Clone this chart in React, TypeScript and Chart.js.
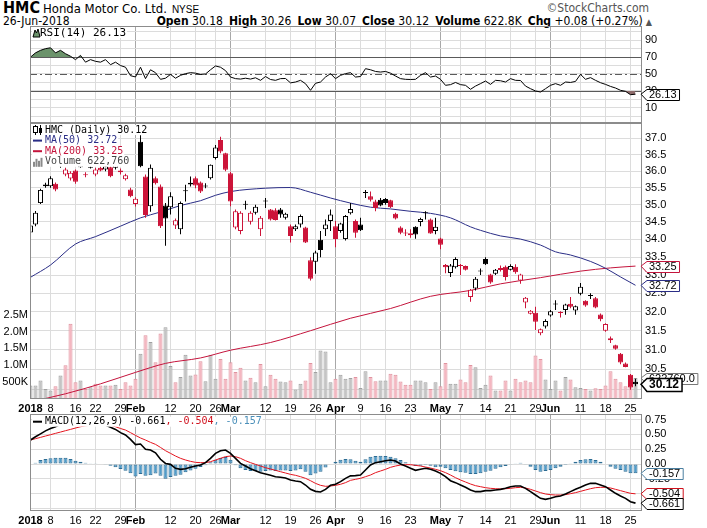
import React, { useEffect, useRef } from "react";
import { Chart, registerables } from "chart.js";

Chart.register(...registerables);

const FONT = "'Liberation Sans', Arial, sans-serif";
const NARROW = "'Liberation Sans Narrow', 'Arial Narrow', 'DejaVu Sans Condensed', 'Liberation Sans', sans-serif";
const MONO = "'DejaVu Sans Mono', 'Liberation Mono', monospace";

const RED = "#cc1439";
const NAVY = "#2a2d86";
const CRIMSON = "#c4143c";
const GRID = "#dcdcdc";
const MONTH_GRID = "#a8a8a8";
const FRAME = "#8c8c8c";

// x axis: trading-day index, 0 = 2-Jan-2018 ... 121 = 26-Jun-2018
const tickIdx = [0, 4, 9, 13, 18, 21, 28, 33, 37, 40, 47, 52, 57, 61, 66, 71, 76, 82, 86, 91, 96, 101, 104, 110, 115, 120];
const tickText = ["2018", "8", "16", "22", "29", "Feb", "12", "20", "26", "Mar", "12", "19", "26", "Apr", "9", "16", "23", "May", "7", "14", "21", "29", "Jun", "11", "18", "25"];
const monthIdx = [0, 21, 40, 61, 82, 104];

// daily candles
const open = [
  34.2, 34.43, 35.05, 35.55, 35.55, 35.62, 36.15, 35.9, 35.78, 36.02,
  36.12, 35.9, 36.12, 35.9, 36.1, 36.05, 36.12, 36.1, 36.02, 35.76,
  35.45, 35.02, 36.9, 35.84, 34.96, 35.79, 35.54, 34.98, 34.93, 34.4,
  34.29, 35.4, 35.6, 35.79, 35.66, 35.57, 35.79, 36.4, 36.95, 36.54,
  35.94, 34.34, 34.24, 35.02, 34.51, 34.77, 34.29, 35.12, 34.86, 34.84,
  34.86, 34.62, 34.38, 34.29, 34.43, 34.34, 33.41, 33.37, 33.99, 34.29,
  34.53, 34.38, 34.24, 34.01, 34.75, 34.53, 34.43, 35.38, 35.25, 35.1,
  35.15, 35.17, 35.13, 34.74, 34.34, 34.2, 34.18, 34.36, 34.5, 34.78,
  34.57, 34.24, 34.03, 33.28, 33.06, 33.22, 33.28, 33.25, 32.4, 32.63,
  33.12, 33.45, 33.02, 33.04, 33.2, 33.23, 33.15, 33.23, 32.85, 32.25,
  31.95, 31.98, 31.43, 31.61, 31.9, 32.2, 32.0, 32.05, 32.22, 32.04,
  32.49, 32.3, 32.45, 32.37, 31.93, 31.5, 31.3, 31.12, 30.9, 30.65,
  30.36, 30.18,
];
const high = [
  34.45, 34.82, 35.47, 35.65, 35.85, 35.66, 36.35, 36.1, 36.0, 36.05,
  36.3, 35.97, 36.15, 36.1, 36.15, 36.2, 36.15, 36.25, 36.08, 35.92,
  35.5, 35.22, 37.1, 35.9, 36.2, 35.84, 35.6, 35.05, 35.37, 34.6,
  35.1, 35.59, 35.84, 35.84, 35.69, 35.64, 36.2, 36.8, 37.05, 36.56,
  35.98, 34.86, 34.81, 35.12, 34.81, 35.0, 34.67, 35.2, 34.88, 34.9,
  34.91, 34.77, 34.43, 34.43, 34.72, 34.36, 33.5, 33.68, 34.24, 34.57,
  34.86, 34.53, 34.48, 34.7, 35.05, 34.57, 34.62, 35.44, 35.39, 35.15,
  35.2, 35.2, 35.15, 34.77, 34.38, 34.29, 34.29, 34.38, 34.62, 34.81,
  34.6, 34.62, 34.05, 33.31, 33.31, 33.5, 33.31, 33.27, 32.62, 32.95,
  33.18, 33.5, 33.04, 33.17, 33.27, 33.27, 33.3, 33.3, 33.04, 32.4,
  32.05, 32.14, 31.56, 31.8, 32.05, 32.31, 32.02, 32.22, 32.4, 32.17,
  32.78, 32.31, 32.5, 32.4, 31.96, 31.7, 31.35, 31.13, 30.92, 30.67,
  30.38, 30.26,
];
const low = [
  34.15, 34.38, 35.02, 35.5, 35.5, 35.4, 36.1, 35.85, 35.72, 35.62,
  36.1, 35.82, 36.08, 35.85, 36.0, 36.0, 35.82, 36.05, 35.9, 35.72,
  35.22, 34.95, 36.12, 34.62, 34.8, 35.6, 34.33, 33.82, 34.72, 34.3,
  34.15, 35.1, 35.54, 35.49, 35.35, 35.49, 35.75, 36.35, 36.54, 36.0,
  34.96, 34.29, 34.15, 34.86, 34.43, 34.72, 34.1, 34.91, 34.54, 34.54,
  34.62, 34.57, 33.91, 34.24, 34.34, 33.9, 32.85, 33.04, 33.5, 34.1,
  34.24, 33.78, 34.19, 33.97, 34.72, 34.05, 34.24, 35.2, 35.1, 34.81,
  34.96, 35.0, 34.91, 34.57, 34.15, 34.1, 34.05, 34.02, 34.38, 34.57,
  34.16, 34.15, 33.72, 33.05, 32.95, 33.18, 33.0, 33.13, 32.27, 32.58,
  33.0, 33.28, 32.76, 33.0, 33.1, 32.85, 33.13, 33.04, 32.76, 32.1,
  31.93, 31.52, 31.38, 31.56, 31.87, 32.05, 31.85, 31.92, 32.1, 31.92,
  32.45, 32.14, 32.35, 32.1, 31.75, 31.47, 31.18, 31.0, 30.63, 30.55,
  29.98, 30.07,
];
const close = [
  34.4, 34.77, 35.44, 35.6, 35.79, 35.45, 36.3, 36.05, 35.95, 35.68,
  36.25, 35.88, 36.1, 36.05, 36.02, 36.15, 35.85, 36.2, 35.97, 35.88,
  35.25, 35.18, 36.15, 34.7, 36.1, 35.64, 34.38, 34.6, 35.25, 34.55,
  35.05, 35.42, 35.65, 35.57, 35.39, 35.54, 36.19, 36.72, 36.6, 36.04,
  35.1, 34.81, 34.77, 35.0, 34.77, 34.94, 34.62, 35.1, 34.57, 34.56,
  34.72, 34.74, 34.1, 34.38, 34.67, 33.91, 32.9, 33.63, 33.7, 34.43,
  34.72, 34.01, 34.46, 34.67, 34.88, 34.19, 34.26, 35.35, 35.15, 34.91,
  34.98, 35.05, 34.93, 34.6, 34.19, 34.17, 34.12, 34.14, 34.59, 34.75,
  34.17, 34.36, 33.85, 33.22, 33.27, 33.45, 33.25, 33.15, 32.6, 32.9,
  33.1, 33.3, 32.8, 33.15, 33.14, 32.95, 33.25, 33.08, 33.02, 32.38,
  32.03, 31.74, 31.54, 31.76, 32.02, 32.22, 31.97, 32.2, 32.14, 32.15,
  32.68, 32.17, 32.43, 32.12, 31.8, 31.68, 31.25, 31.03, 30.67, 30.56,
  30.04, 30.12,
];
// volume, millions of shares
const volume = [
  0.4, 0.4, 0.55, 0.3, 0.25, 0.38, 0.7, 1.0, 2.23, 0.5,
  0.55, 0.3, 0.35, 0.45, 0.4, 0.4, 0.4, 0.42, 0.3, 0.5,
  0.4, 0.6, 1.34, 1.89, 1.69, 1.09, 1.94, 2.13, 0.98, 0.5,
  0.65, 1.31, 0.7, 0.73, 1.12, 0.53, 1.31, 0.6, 1.19, 0.6,
  1.09, 0.8, 0.93, 0.55, 0.63, 0.5, 1.04, 0.38, 0.72, 0.6,
  0.52, 0.5, 0.55, 0.28, 0.45, 0.55, 1.07, 0.8, 1.44, 1.41,
  0.5, 0.6, 0.72, 0.6, 0.62, 0.65, 0.33, 0.82, 0.65, 0.53,
  0.55, 0.55, 0.75, 0.72, 0.52, 0.42, 0.42, 0.55, 0.55, 0.5,
  0.3, 0.5, 0.38, 1.07, 0.45, 0.45, 0.58, 0.5, 1.01, 0.94,
  0.33, 0.42, 0.7, 0.25, 0.25, 0.55, 0.25, 0.6, 0.5, 0.55,
  0.5, 1.29, 1.19, 0.58, 0.3, 0.55, 0.25, 0.65, 0.58, 0.35,
  0.33, 0.3, 0.25, 0.32, 0.3, 0.4, 0.82, 0.6, 0.5, 0.38,
  0.65, 0.62276,
];

// moving averages, read at these day indices
const ma50Idx = [0, 4, 9, 13, 18, 22, 26, 30, 34, 37, 40, 47, 52, 56, 60, 64, 68, 72, 76, 80, 84, 88, 90, 94, 98, 102, 105, 108, 112, 115, 118, 121];
const ma50 = [32.94, 33.28, 33.87, 34.08, 34.38, 34.62, 34.79, 34.98, 35.12, 35.28, 35.39, 35.49, 35.51, 35.37, 35.2, 35.05, 34.93, 34.88, 34.81, 34.75, 34.62, 34.36, 34.26, 34.1, 34.01, 33.84, 33.65, 33.56, 33.38, 33.19, 32.95, 32.72];
const ma200Idx = [0, 7, 14, 21, 27, 34, 40, 48, 56, 64, 72, 80, 88, 94, 102, 110, 116, 121];
const ma200 = [29.68, 29.88, 30.13, 30.42, 30.65, 30.79, 30.99, 31.19, 31.5, 31.83, 32.09, 32.42, 32.58, 32.76, 32.93, 33.11, 33.2, 33.25];

const rsi = [
  70, 75, 78, 80, 81, 75, 78, 74, 71, 67,
  72, 64, 67, 65, 64, 67, 61, 64, 60, 58,
  48, 46.5, 58, 44.5, 55, 51.5, 43.7, 45, 49.5, 45,
  48.4, 50.4, 51.6, 51, 49.5, 50, 55, 59.5, 58, 54,
  46.4, 44.5, 44, 45, 44, 45.5, 42.5, 47, 43.5, 42.5,
  44.5, 44.7, 39.5, 40.5, 42.5, 38.5, 30.7, 39, 40.5, 46.4,
  50.4, 44.5, 48.4, 50.4, 51.6, 46.4, 47, 56.3, 55, 53,
  52.3, 53, 51, 47.6, 44.5, 43.7, 43.5, 43.7, 48.4, 51.6,
  46.4, 47.6, 43.7, 36.6, 37.4, 40, 37.4, 36.6, 31.9, 35.7,
  38.6, 41.7, 37.7, 42.5, 42, 40.5, 44.5, 42.5, 42.3, 35.7,
  32.6, 29.9, 28.7, 32.6, 36.6, 38.6, 36.6, 40.5, 40, 41.2,
  49.6, 43.7, 45.7, 42.5, 39.7, 37.7, 35.3, 33.4, 30.7, 29.5,
  25.5, 26.13,
];

const macd = [
  0.405, 0.46, 0.51, 0.56, 0.6, 0.63, 0.67, 0.69, 0.7, 0.7,
  0.71, 0.7, 0.7, 0.69, 0.68, 0.66, 0.62, 0.585, 0.53, 0.49,
  0.417, 0.327, 0.338, 0.248, 0.236, 0.19, 0.08, 0.01, -0.006, -0.073,
  -0.09, -0.079, -0.056, -0.034, -0.017, 0.023, 0.096, 0.18, 0.225, 0.236,
  0.18, 0.096, 0.011, -0.034, -0.079, -0.113, -0.146, -0.169, -0.191, -0.214,
  -0.225, -0.236, -0.27, -0.287, -0.298, -0.355, -0.428, -0.462, -0.473, -0.428,
  -0.36, -0.343, -0.298, -0.242, -0.2, -0.197, -0.186, -0.101, -0.017, 0.023,
  0.039, 0.056, 0.068, 0.051, 0, -0.034, -0.073, -0.107, -0.09, -0.073,
  -0.09, -0.118, -0.158, -0.214, -0.282, -0.315, -0.355, -0.394, -0.439, -0.467,
  -0.467, -0.45, -0.45, -0.439, -0.428, -0.411, -0.383, -0.372, -0.372, -0.411,
  -0.467, -0.524, -0.58, -0.597, -0.58, -0.552, -0.54, -0.507, -0.467, -0.428,
  -0.394, -0.355, -0.327, -0.327, -0.355, -0.383, -0.439, -0.495, -0.541, -0.58,
  -0.636, -0.661,
];
const signal = [
  0.405, 0.428, 0.45, 0.473, 0.495, 0.518, 0.54, 0.563, 0.585, 0.608,
  0.63, 0.645, 0.655, 0.66, 0.665, 0.665, 0.655, 0.63, 0.6, 0.574,
  0.53, 0.484, 0.44, 0.405, 0.366, 0.332, 0.28, 0.225, 0.18, 0.135,
  0.096, 0.068, 0.045, 0.028, 0.023, 0.023, 0.039, 0.068, 0.096, 0.124,
  0.135, 0.124, 0.096, 0.056, 0.023, -0.006, -0.034, -0.062, -0.084, -0.107,
  -0.13, -0.152, -0.175, -0.191, -0.214, -0.242, -0.282, -0.327, -0.36, -0.377,
  -0.372, -0.36, -0.343, -0.315, -0.276, -0.259, -0.242, -0.214, -0.186, -0.146,
  -0.118, -0.09, -0.056, -0.034, -0.017, -0.011, -0.011, -0.023, -0.034, -0.051,
  -0.068, -0.09, -0.113, -0.146, -0.186, -0.231, -0.27, -0.304, -0.338, -0.366,
  -0.383, -0.4, -0.411, -0.417, -0.422, -0.417, -0.411, -0.4, -0.394, -0.405,
  -0.428, -0.456, -0.484, -0.507, -0.518, -0.524, -0.524, -0.518, -0.501, -0.484,
  -0.462, -0.439, -0.417, -0.4, -0.394, -0.394, -0.405, -0.428, -0.45, -0.473,
  -0.495, -0.504,
];
const hist = [
  0, 0.02, 0.068, 0.085, 0.096, 0.107, 0.107, 0.107, 0.085, 0.056,
  0.04, 0.023, 0.011, 0.006, 0, -0.006, -0.028, -0.056, -0.084, -0.113,
  -0.158, -0.21, -0.17, -0.2, -0.19, -0.16, -0.2, -0.25, -0.22, -0.2,
  -0.18, -0.14, -0.11, -0.08, -0.05, -0.02, 0.03, 0.07, 0.1, 0.12,
  0.07, -0.02, -0.07, -0.1, -0.12, -0.12, -0.13, -0.12, -0.11, -0.12,
  -0.11, -0.11, -0.12, -0.11, -0.09, -0.13, -0.19, -0.16, -0.13, -0.06,
  0, 0.04, 0.07, 0.085, 0.079, 0.056, 0.04, 0.079, 0.124, 0.135,
  0.14, 0.135, 0.124, 0.096, 0.068, 0.028, 0, -0.034, -0.028, -0.017,
  -0.028, -0.056, -0.045, -0.073, -0.101, -0.124, -0.141, -0.146, -0.169, -0.169,
  -0.158, -0.13, -0.113, -0.079, -0.056, -0.034, -0.006, 0.011, 0.023, -0.006,
  -0.045, -0.101, -0.13, -0.118, -0.101, -0.073, -0.045, -0.017, 0.011, 0.039,
  0.068, 0.079, 0.085, 0.068, 0.039, 0, -0.045, -0.079, -0.101, -0.13,
  -0.158, -0.157,
];

const priceTicks = [30.0, 30.5, 31.0, 31.5, 32.0, 32.5, 33.0, 33.5, 34.0, 34.5, 35.0, 35.5, 36.0, 36.5, 37.0];
const volTicks = [0.5, 1.0, 1.5, 2.0, 2.5];
const rsiGrid = [0, 10, 20, 30, 40, 50, 60, 70, 80, 90, 100];
const rsiLabels = [10, 30, 50, 70, 90];
const macdTicks = [-0.75, -0.5, -0.25, 0, 0.25, 0.5, 0.75];
const macdTickText = ["", "-0.50", "-0.25", "0.00", "0.25", "0.50", "0.75"];

const last = (a: number[]) => a[a.length - 1];
const isUp = (i: number) => i === 0 || close[i] >= close[i - 1];
const candleColor = (i: number) => (isUp(i) ? "#000" : RED);
const bodyFill = (i: number) => (close[i] > open[i] + 0.02 ? "#fff" : candleColor(i));

function xAxis(showLabels: boolean, height: number) {
  return {
    type: "linear",
    bounds: "data",
    min: -0.1,
    max: 122.3,
    offset: false,
    afterBuildTicks: (s: any) => {
      s.ticks = tickIdx.map((v) => ({ value: v }));
    },
    afterFit: (s: any) => {
      s.height = height;
      s.paddingLeft = 0;
      s.paddingRight = 0;
    },
    ticks: {
      display: showLabels,
      autoSkip: false,
      maxRotation: 0,
      padding: 3,
      color: "#000",
      font: (c: any) => ({ family: FONT, size: 11, weight: monthIdx.includes(c.tick?.value) ? "bold" : "normal" }),
      callback: (v: any) => tickText[tickIdx.indexOf(Number(v))] ?? "",
    },
    grid: {
      color: (c: any) => (monthIdx.includes(c.tick?.value) ? MONTH_GRID : GRID),
      drawTicks: false,
      offset: false,
    },
    border: { display: false },
  };
}

function rightAxis(min: number, max: number, ticks: number[], label: (v: number) => string, type = "linear") {
  return {
    type,
    position: "right",
    bounds: "data",
    min,
    max,
    afterBuildTicks: (s: any) => {
      s.ticks = ticks.map((v) => ({ value: v }));
    },
    afterFit: (s: any) => {
      s.width = 65;
      s.paddingTop = 0;
      s.paddingBottom = 0;
    },
    ticks: { autoSkip: false, padding: 3, color: "#000", font: { family: FONT, size: 11 }, callback: (v: any) => label(Number(v)) },
    grid: { color: GRID, drawTicks: false },
    border: { display: false },
  };
}

type Seg = { text: string; color: string };
type Row = { icon: string; color: string; segs: Seg[] };
type Tag = { axis: string; value: number; text: string; color: string; bold?: boolean };
type Level = { value: number; dash: number[] };
type Legend = { rows: Row[]; top: number; step: number; textX: number; size: number };

function drawIcon(ctx: CanvasRenderingContext2D, icon: string, color: string, x: number, yc: number) {
  ctx.save();
  ctx.lineWidth = 1;
  if (icon === "line") {
    ctx.fillStyle = color;
    ctx.fillRect(x, yc - 1, 9, 2);
  } else if (icon === "candle") {
    ctx.strokeStyle = "#000";
    ctx.beginPath();
    ctx.moveTo(x + 2.5, yc - 5);
    ctx.lineTo(x + 2.5, yc + 5);
    ctx.moveTo(x + 7.5, yc - 5);
    ctx.lineTo(x + 7.5, yc + 5);
    ctx.stroke();
    ctx.fillStyle = "#fff";
    ctx.fillRect(x + 1, yc - 3, 3, 5);
    ctx.strokeRect(x + 0.5, yc - 3.5, 4, 6);
    ctx.fillStyle = "#000";
    ctx.fillRect(x + 6, yc - 2, 3, 5);
  } else if (icon === "bars") {
    ctx.fillStyle = color;
    [5, 8, 6, 9].forEach((h, k) => ctx.fillRect(x + k * 2.5, yc + 5 - h, 2, h));
  } else if (icon === "mountain") {
    ctx.beginPath();
    ctx.moveTo(x, yc + 4);
    ctx.lineTo(x + 2, yc - 3);
    ctx.lineTo(x + 3.5, yc);
    ctx.lineTo(x + 5, yc - 4);
    ctx.lineTo(x + 7, yc + 4);
    ctx.closePath();
    ctx.fillStyle = color;
    ctx.fill();
    ctx.strokeStyle = "#000";
    ctx.stroke();
  }
  ctx.restore();
}

function drawTag(ctx: CanvasRenderingContext2D, x0: number, yc: number, t: Tag) {
  ctx.font = t.bold ? `bold 12px ${FONT}` : `11px ${FONT}`;
  const w = ctx.measureText(t.text).width + 4;
  const h = t.bold ? 13 : 11;
  const top = Math.round(yc - h / 2) + 0.5;
  ctx.beginPath();
  ctx.moveTo(x0, yc);
  ctx.lineTo(x0 + 6, top);
  ctx.lineTo(x0 + 7 + w, top);
  ctx.lineTo(x0 + 7 + w, top + h);
  ctx.lineTo(x0 + 6, top + h);
  ctx.closePath();
  ctx.fillStyle = "#fff";
  ctx.fill();
  ctx.lineWidth = t.bold ? 1.5 : 1;
  ctx.strokeStyle = t.color;
  ctx.stroke();
  ctx.fillStyle = "#000";
  ctx.textBaseline = "middle";
  ctx.fillText(t.text, x0 + 8, yc + 0.5);
}

function decor(legend: Legend, tags: Tag[], levels: Level[] = []) {
  return {
    id: "decor",
    beforeDatasetsDraw(chart: any) {
      const { ctx, chartArea: a, scales } = chart;
      ctx.save();
      ctx.strokeStyle = "#5a5a5a";
      ctx.lineWidth = 1;
      levels.forEach((l) => {
        const y = Math.round(scales.y.getPixelForValue(l.value)) + 0.5;
        ctx.setLineDash(l.dash);
        ctx.beginPath();
        ctx.moveTo(a.left, y);
        ctx.lineTo(a.right, y);
        ctx.stroke();
      });
      ctx.restore();
    },
    afterDraw(chart: any) {
      const { ctx, chartArea: a, scales } = chart;
      ctx.save();
      ctx.strokeStyle = FRAME;
      ctx.lineWidth = 1;
      ctx.strokeRect(Math.round(a.left) + 0.5, Math.round(a.top) + 0.5, Math.round(a.right - a.left) - 1, Math.round(a.bottom - a.top) - 1);

      ctx.font = `${legend.size}px ${MONO}`;
      ctx.textBaseline = "middle";
      legend.rows.forEach((r, k) => {
        const yc = a.top + legend.top + k * legend.step;
        const w = r.segs.reduce((s, g) => s + ctx.measureText(g.text).width, 0);
        ctx.fillStyle = "#fff";
        ctx.fillRect(a.left + 2, yc - 5, legend.textX + w - 1, 10);
        drawIcon(ctx, r.icon, r.color, a.left + 3, yc);
        let x = a.left + legend.textX;
        r.segs.forEach((g) => {
          ctx.fillStyle = g.color;
          ctx.fillText(g.text, x, yc);
          x += ctx.measureText(g.text).width;
        });
      });

      tags.forEach((t) => drawTag(ctx, a.right - 1, scales[t.axis].getPixelForValue(t.value), t));
      ctx.restore();
    },
  };
}

const baseOptions = {
  animation: false,
  responsive: false,
  maintainAspectRatio: false,
  plugins: { legend: { display: false }, tooltip: { enabled: false } },
};

function rsiConfig(): any {
  const pts = rsi.map((v, i) => ({ x: i, y: v }));
  return {
    type: "line",
    data: {
      datasets: [
        { data: pts, borderColor: "#000", borderWidth: 1, pointRadius: 0, fill: { target: { value: 70 }, above: "#6b936b", below: "rgba(0,0,0,0)" }, order: 1 },
        { data: pts, borderWidth: 0, borderColor: "rgba(0,0,0,0)", pointRadius: 0, fill: { target: { value: 30 }, above: "rgba(0,0,0,0)", below: "#8e6c6c" }, order: 2 },
      ],
    },
    options: {
      ...baseOptions,
      layout: { padding: { left: 30, top: 10, right: 0, bottom: 0 } },
      scales: {
        x: xAxis(false, 0),
        y: rightAxis(-8, 106.8, rsiGrid, (v) => (rsiLabels.includes(v) ? String(v) : "")),
      },
    },
    plugins: [
      decor(
        { rows: [{ icon: "mountain", color: "#6b936b", segs: [{ text: `RSI(14) ${last(rsi).toFixed(2)}`, color: "#000" }] }], top: 7, step: 10.6, textX: 10, size: 11 },
        [{ axis: "y", value: last(rsi), text: last(rsi).toFixed(2), color: "#000" }],
        [
          { value: 70, dash: [] },
          { value: 50, dash: [7, 3, 2, 3] },
          { value: 30, dash: [] },
        ]
      ),
    ],
  };
}

function mainConfig(): any {
  return {
    type: "bar",
    data: {
      datasets: [
        {
          type: "bar",
          yAxisID: "vol",
          data: volume.map((v, i) => ({ x: i, y: v * 1e6 })),
          backgroundColor: (c: any) => (isUp(c.dataIndex ?? 0) ? "#c4c4c4" : "#f4b7c1"),
          borderColor: (c: any) => (isUp(c.dataIndex ?? 0) ? "#a0a0a0" : "#e0939f"),
          borderWidth: 1,
          borderSkipped: false,
          barThickness: 4,
          grouped: false,
          inflateAmount: 0,
          order: 5,
        },
        {
          type: "line",
          yAxisID: "y",
          data: ma200Idx.map((x, k) => ({ x, y: ma200[k] })),
          borderColor: CRIMSON,
          borderWidth: 1,
          pointRadius: 0,
          cubicInterpolationMode: "monotone",
          order: 4,
        },
        {
          type: "line",
          yAxisID: "y",
          data: ma50Idx.map((x, k) => ({ x, y: ma50[k] })),
          borderColor: NAVY,
          borderWidth: 1,
          pointRadius: 0,
          cubicInterpolationMode: "monotone",
          order: 3,
        },
        {
          type: "bar",
          yAxisID: "y",
          data: open.map((_, i) => ({ x: i, y: [low[i], high[i]] })),
          backgroundColor: (c: any) => candleColor(c.dataIndex ?? 0),
          barThickness: 1,
          minBarLength: 1,
          grouped: false,
          inflateAmount: 0,
          order: 2,
        },
        {
          type: "bar",
          yAxisID: "y",
          data: open.map((_, i) => ({ x: i, y: [Math.min(open[i], close[i]), Math.max(open[i], close[i])] })),
          backgroundColor: (c: any) => bodyFill(c.dataIndex ?? 0),
          borderColor: (c: any) => candleColor(c.dataIndex ?? 0),
          borderWidth: 1,
          borderSkipped: false,
          barThickness: 5,
          minBarLength: 1,
          grouped: false,
          inflateAmount: 0,
          order: 1,
        },
      ],
    },
    options: {
      ...baseOptions,
      layout: { padding: { left: 0, top: 10, right: 0, bottom: 0 } },
      scales: {
        x: xAxis(true, 15),
        y: rightAxis(29.75, 37.48, priceTicks, (v) => v.toFixed(1), "logarithmic"),
        vol: {
          type: "linear",
          position: "left",
          bounds: "data",
          min: 0,
          max: 8.19e6,
          afterBuildTicks: (s: any) => {
            s.ticks = volTicks.map((v) => ({ value: v * 1e6 }));
          },
          afterFit: (s: any) => {
            s.width = 30;
            s.paddingTop = 0;
            s.paddingBottom = 0;
          },
          ticks: {
            autoSkip: false,
            padding: 2,
            color: "#000",
            font: { family: FONT, size: 11 },
            callback: (v: any) => (v >= 1e6 ? (v / 1e6).toFixed(1) + "M" : Math.round(v / 1e3) + "K"),
          },
          grid: { display: false, drawTicks: false },
          border: { display: false },
        },
      },
    },
    plugins: [
      decor(
        {
          rows: [
            { icon: "candle", color: "#000", segs: [{ text: `HMC (Daily) ${last(close).toFixed(2)}`, color: "#000" }] },
            { icon: "line", color: NAVY, segs: [{ text: `MA(50) ${last(ma50).toFixed(2)}`, color: NAVY }] },
            { icon: "line", color: CRIMSON, segs: [{ text: `MA(200) ${last(ma200).toFixed(2)}`, color: CRIMSON }] },
            { icon: "bars", color: "#8a8a8a", segs: [{ text: `Volume ${Math.round(last(volume) * 1e6).toLocaleString("en-US")}`, color: "#444" }] },
          ],
          top: 7,
          step: 10.6,
          textX: 15,
          size: 10,
        },
        [
          { axis: "y", value: last(ma200), text: last(ma200).toFixed(2), color: CRIMSON },
          { axis: "y", value: last(ma50), text: last(ma50).toFixed(2), color: NAVY },
          { axis: "vol", value: last(volume) * 1e6, text: (last(volume) * 1e6).toFixed(1), color: "#777" },
          { axis: "y", value: last(close), text: last(close).toFixed(2), color: "#000", bold: true },
        ]
      ),
    ],
  };
}

function macdConfig(): any {
  return {
    type: "bar",
    data: {
      datasets: [
        {
          type: "bar",
          data: hist.map((v, i) => ({ x: i, y: v })),
          backgroundColor: "#4f9ccb",
          borderColor: "#2d6c93",
          borderWidth: 1,
          borderSkipped: false,
          barThickness: 4,
          grouped: false,
          inflateAmount: 0,
          order: 3,
        },
        { type: "line", data: signal.map((v, i) => ({ x: i, y: v })), borderColor: "#e4141e", borderWidth: 1, pointRadius: 0, order: 2 },
        { type: "line", data: macd.map((v, i) => ({ x: i, y: v })), borderColor: "#000", borderWidth: 1.6, pointRadius: 0, order: 1 },
      ],
    },
    options: {
      ...baseOptions,
      layout: { padding: { left: 30, top: 10, right: 0, bottom: 0 } },
      scales: {
        x: xAxis(true, 17),
        y: rightAxis(-0.794, 0.845, macdTicks, (v) => macdTickText[macdTicks.indexOf(v)] ?? ""),
      },
    },
    plugins: [
      decor(
        {
          rows: [
            {
              icon: "line",
              color: "#000",
              segs: [
                { text: `MACD(12,26,9) ${last(macd).toFixed(3)}`, color: "#000" },
                { text: `, ${last(signal).toFixed(3)}`, color: "#d0101c" },
                { text: `, ${last(hist).toFixed(3)}`, color: "#4a8fb9" },
              ],
            },
          ],
          top: 7.7,
          step: 10.6,
          textX: 15,
          size: 10,
        },
        [
          { axis: "y", value: last(hist), text: last(hist).toFixed(3), color: "#4a7fa0" },
          { axis: "y", value: last(signal), text: last(signal).toFixed(3), color: "#d0101c" },
          { axis: "y", value: last(macd), text: last(macd).toFixed(3), color: "#000" },
        ]
      ),
    ],
  };
}

export default function App() {
  const rsiRef = useRef<HTMLCanvasElement | null>(null);
  const mainRef = useRef<HTMLCanvasElement | null>(null);
  const macdRef = useRef<HTMLCanvasElement | null>(null);

  useEffect(() => {
    if (!rsiRef.current || !mainRef.current || !macdRef.current) return;
    const charts = [new Chart(rsiRef.current, rsiConfig()), new Chart(mainRef.current, mainConfig()), new Chart(macdRef.current, macdConfig())];
    return () => charts.forEach((c) => c.destroy());
  }, []);

  const n = close.length;
  const chg = close[n - 1] - close[n - 2];
  const sign = chg >= 0 ? "+" : "";
  const quote = [
    ["Open", open[n - 1].toFixed(2)],
    ["High", high[n - 1].toFixed(2)],
    ["Low", low[n - 1].toFixed(2)],
    ["Close", close[n - 1].toFixed(2)],
    ["Volume", (volume[n - 1] * 1000).toFixed(1) + "K"],
    ["Chg", `${sign}${chg.toFixed(2)} (${sign}${((chg / close[n - 2]) * 100).toFixed(2)}%)`],
  ];

  const abs = (top: number): React.CSSProperties => ({ position: "absolute", left: 0, top });

  return (
    <div style={{ position: "fixed", left: 0, top: 0, width: 707, height: 528, background: "#fff", overflow: "hidden", fontFamily: NARROW, color: "#000" }}>
      <div style={{ position: "absolute", left: 3, top: 0, whiteSpace: "nowrap", lineHeight: "15px" }}>
        <span style={{ fontWeight: "bold", fontSize: 16 }}>HMC</span>
        <span style={{ fontSize: 13, marginLeft: 3 }}>Honda Motor Co. Ltd.</span>
        <span style={{ fontSize: 10, marginLeft: 5, fontFamily: FONT }}>NYSE</span>
      </div>
      <div style={{ position: "absolute", right: 58, top: 1, fontSize: 12, color: "#555", whiteSpace: "nowrap" }}>©StockCharts.com</div>
      <div style={{ position: "absolute", left: 3, top: 14, fontSize: 12, whiteSpace: "nowrap" }}>26-Jun-2018</div>
      <div style={{ position: "absolute", right: 55, top: 14, fontSize: 12, whiteSpace: "nowrap" }}>
        {quote.map(([k, v]) => (
          <span key={k} style={{ marginLeft: 6 }}>
            <b>{k}</b> {v}
          </span>
        ))}
        <span style={{ marginLeft: 3, color: "#555", fontSize: 9 }}>▲</span>
      </div>
      <canvas ref={rsiRef} width={707} height={107} style={{ ...abs(16), width: 707, height: 107 }} />
      <canvas ref={mainRef} width={707} height={301} style={{ ...abs(113), width: 707, height: 301 }} />
      <canvas ref={macdRef} width={707} height={124} style={{ ...abs(404), width: 707, height: 124 }} />
    </div>
  );
}
